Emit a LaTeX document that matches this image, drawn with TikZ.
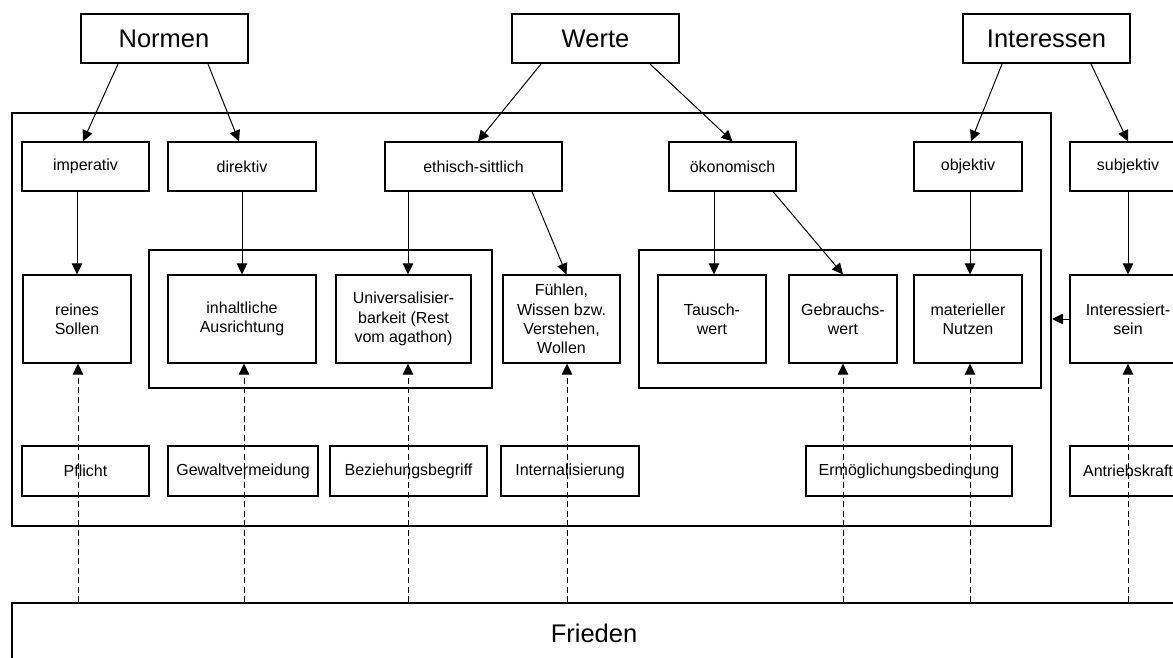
\documentclass[tikz,border=0pt]{standalone}
\usepackage{fontspec}
\setmainfont{Liberation Sans}
\usetikzlibrary{calc,arrows.meta}
\definecolor{ink}{HTML}{000000}
\tikzset{
  box/.style={draw=ink, line width=1.2pt, inner sep=0pt, align=center, font=\fontsize{16}{19.3}\selectfont},
  head/.style={draw=ink, line width=2pt, inner sep=0pt, minimum width=167pt, minimum height=49pt, font=\fontsize{25.5}{30}\selectfont},
  frame/.style={draw=ink, line width=2pt, inner sep=0pt},
  arr/.style={draw=ink, line width=1pt, -{Triangle[length=11pt,width=10.5pt]}},
  darr/.style={arr, dash pattern=on 6pt off 3.5pt},
}

\begin{document}
\begin{tikzpicture}[x=1pt,y=-1pt]
  \path[use as bounding box, clip] (0,0) rectangle (1173,657);

  % heads
  \node[head] (nor) at (164,38.5) {Normen};
  \node[head] (wer) at (595.5,38.5) {Werte};
  \node[head] (int) at (1046.5,38.5) {Interessen};

  % frames
  \node[frame, minimum width=1039pt, minimum height=413pt] (outer) at (531.5,319.5) {};
  \node[frame, minimum width=343pt, minimum height=138pt] (grpa) at (320.5,319) {};
  \node[frame, minimum width=402pt, minimum height=138pt] (grpb) at (840,319) {};
  \node[frame, minimum width=1164pt, minimum height=60pt, font=\fontsize{25.5}{30}\selectfont] (fri) at (594,633) {Frieden};

  % kinds
  \node[box, minimum width=127pt, minimum height=49pt] (imp) at (85.5,166.5) {imperativ};
  \node[box, minimum width=148pt, minimum height=49pt] (dir) at (242,166.5) {direktiv};
  \node[box, minimum width=177pt, minimum height=49pt] (eth) at (473.5,166.5) {ethisch-sittlich};
  \node[box, minimum width=127pt, minimum height=49pt] (oek) at (732.5,166.5) {ökonomisch};
  \node[box, minimum width=108pt, minimum height=49pt] (obj) at (968,166.5) {objektiv};
  \node[box, minimum width=116pt, minimum height=49pt] (subj) at (1128,166.5) {subjektiv};

  % contents
  \node[box, minimum width=108pt, minimum height=88pt] (soll) at (77,319) {reines\\Sollen};
  \node[box, minimum width=148pt, minimum height=88pt] (inh) at (242,319) {inhaltliche\\Ausrichtung};
  \node[box, minimum width=135pt, minimum height=88pt] (uni) at (403.5,319) {Universalisier-\\barkeit (Rest\\vom agathon)};
  \node[box, minimum width=117pt, minimum height=88pt] (fue) at (561.5,319) {Fühlen,\\Wissen bzw.\\Verstehen,\\Wollen};
  \node[box, minimum width=108pt, minimum height=88pt] (tau) at (712,319) {Tausch-\\wert};
  \node[box, minimum width=108pt, minimum height=88pt] (geb) at (843,319) {Gebrauchs-\\wert};
  \node[box, minimum width=108pt, minimum height=88pt] (mat) at (968,319) {materieller\\Nutzen};
  \node[box, minimum width=116pt, minimum height=88pt] (isein) at (1128,319) {Interessiert-\\sein};

  % functions
  \node[box, minimum width=127pt, minimum height=50pt] (pfl) at (85.5,471) {Pflicht};
  \node[box, minimum width=150pt, minimum height=50pt] (gew) at (243,471) {Gewaltvermeidung};
  \node[box, minimum width=157pt, minimum height=50pt] (bez) at (408.5,471) {Beziehungsbegriff};
  \node[box, minimum width=138pt, minimum height=50pt] (inl) at (570,471) {Internalisierung};
  \node[box, minimum width=206pt, minimum height=50pt] (erm) at (909,471) {Ermöglichungsbedingung};
  \node[box, minimum width=116pt, minimum height=50pt] (antr) at (1128,471) {Antriebskraft};

  \draw[arr] ([xshift=-46pt]nor.south) -- ([xshift=-2.5pt]imp.north);
  \draw[arr] ([xshift=44pt]nor.south) -- ([xshift=-3pt]dir.north);
  \draw[arr] ([xshift=-54.5pt]wer.south) -- ([xshift=4.5pt]eth.north);
  \draw[arr] ([xshift=54.5pt]wer.south) -- (oek.north);
  \draw[arr] ([xshift=-44.5pt]int.south) -- ([xshift=3pt]obj.north);
  \draw[arr] ([xshift=44.5pt]int.south) -- (subj.north);

  \draw[arr] ([xshift=-8.5pt]imp.south) -- (soll.north);
  \draw[arr] (dir.south) -- (inh.north);
  \draw[arr] ([xshift=-65.5pt]eth.south) -- ([xshift=4.5pt]uni.north);
  \draw[arr] ([xshift=58.5pt]eth.south) -- ([xshift=5pt]fue.north);
  \draw[arr] ([xshift=-18.5pt]oek.south) -- ([xshift=2pt]tau.north);
  \draw[arr] ([xshift=40.5pt]oek.south) -- (geb.north);
  \draw[arr] ([xshift=2pt]obj.south) -- ([xshift=2pt]mat.north);
  \draw[arr] (subj.south) -- (isein.north);
  \draw[arr] (isein.west) -- (isein.west -| outer.east);

  % Frieden below everything
  \foreach \t/\s in {soll/1, inh/2, uni/4.5, fue/5.5, geb/0, mat/2, isein/0}
    \draw[darr] ($(\t.south |- fri.north)+(\s,0)$) -- ($(\t.south)+(\s,0)$);
\end{tikzpicture}
\end{document}
